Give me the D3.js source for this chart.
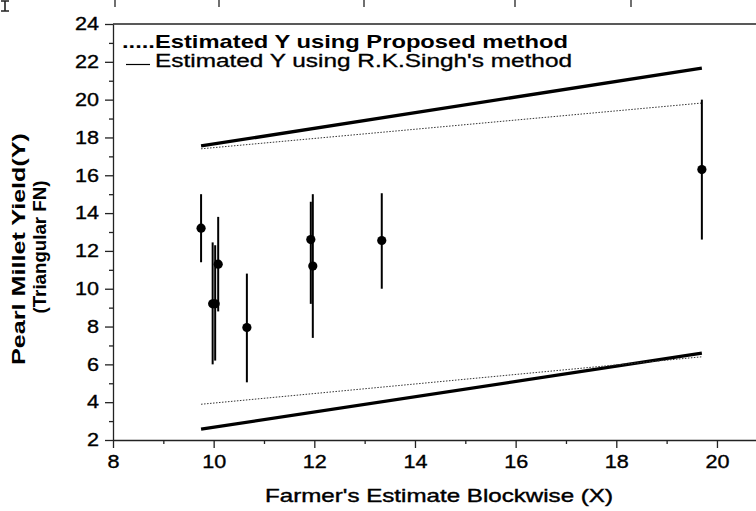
<!DOCTYPE html>
<html>
<head>
<meta charset="utf-8">
<script src="https://cdn.jsdelivr.net/npm/d3@7"></script>
<style>
  body { margin: 0; background: #fff; }
  svg { display: block; font-family: "Liberation Sans", Arial, sans-serif; }
</style>
</head>
<body>
<svg id="chart" width="756" height="511"></svg>
<script>
// --- Data ---
const blockX   = [9.75, 9.98, 10.03, 10.09, 10.66, 11.93, 11.97, 13.34, 19.70];
const yieldY   = [13.2, 9.2, 9.2, 11.3, 7.95, 12.6, 11.2, 12.55, 16.3];
const yieldLow = [11.4, 6.0, 6.2, 8.8, 5.05, 9.2, 7.4, 10.0, 12.6];
const yieldHigh= [15.0, 12.45, 12.3, 13.8, 10.8, 14.6, 15.0, 15.05, 20.0];

const lineX         = [9.75, 19.70];
const singhUpper    = [17.55, 21.67];
const singhLower    = [2.57, 6.59];
const proposedUpper = [17.4, 19.82];
const proposedLower = [3.89, 6.40];

const xMajor = [8, 10, 12, 14, 16, 18, 20];
const xMinor = [9, 11, 13, 15, 17, 19, 21];
const yMajor = [2, 4, 6, 8, 10, 12, 14, 16, 18, 20, 22, 24];
const yMinor = [3, 5, 7, 9, 11, 13, 15, 17, 19, 21, 23];

const legendProposed = ".....Estimated Y using Proposed method";
const legendSingh = "Estimated Y using R.K.Singh's method";
const xTitle = "Farmer's Estimate Blockwise (X)";
const yTitle1 = "Pearl Millet Yield(Y)";
const yTitle2 = "(Triangular FN)";

// --- Layout ---
const svg = d3.select("#chart");
const plotLeft = 113, plotTop = 24, plotBottom = 440, pxPerUnit = 50.33;

const x = d3.scaleLinear().domain([8, 21]).range([plotLeft, plotLeft + 13 * pxPerUnit]);
const y = d3.scaleLinear().domain([2, 24]).range([plotBottom, plotTop]);

svg.append("rect").attr("width", 756).attr("height", 511).attr("fill", "#fff");

// leftover marks of the figure above (cropped edge)
[115, 219, 364, 515, 631].forEach(px => {
    svg.append("line").attr("x1", px).attr("x2", px).attr("y1", 0).attr("y2", 7)
        .attr("stroke", "#222").attr("stroke-width", 1.3);
});
svg.append("path").attr("d", "M1,1H9M5,1V11M1,11H9")
    .attr("fill", "none").attr("stroke", "#222").attr("stroke-width", 1.6);

// --- Axes ---
const tickScale = "scale(1.2,1)";

const gx = svg.append("g").attr("transform", `translate(0,${plotBottom})`)
    .call(d3.axisBottom(x).tickValues(xMajor).tickSize(8).tickSizeOuter(0).tickPadding(7));
gx.append("g").call(d3.axisBottom(x).tickValues(xMinor).tickSize(4).tickFormat(""))
    .select(".domain").remove();

const gy = svg.append("g").attr("transform", `translate(${plotLeft},0)`)
    .call(d3.axisLeft(y).tickValues(yMajor).tickSize(8).tickSizeOuter(0).tickPadding(6));
gy.append("g").call(d3.axisLeft(y).tickValues(yMinor).tickSize(4).tickFormat(""))
    .select(".domain").remove();

[gx, gy].forEach(g => {
    g.selectAll(".domain, line").attr("stroke", "#222").attr("stroke-width", 1.3);
    g.selectAll("text").style("font-size", "18px").style("font-family", "Liberation Sans, Arial")
        .attr("fill", "#000").attr("stroke", "#000").attr("stroke-width", 0.35)
        .attr("transform", tickScale);
});
gy.selectAll(".tick text").attr("x", -14 / 1.2);

// top frame line
svg.append("line")
    .attr("x1", x(8)).attr("x2", 756).attr("y1", y(24)).attr("y2", y(24))
    .attr("stroke", "#222").attr("stroke-width", 1.3);

// --- Fitted lines ---
const lineGen = d3.line().x(d => x(d[0])).y(d => y(d[1]));
const pairs = vals => lineX.map((v, i) => [v, vals[i]]);

[singhUpper, singhLower].forEach(vals => {
    svg.append("path").attr("d", lineGen(pairs(vals)))
        .attr("fill", "none").attr("stroke", "#000").attr("stroke-width", 3.3);
});
[proposedUpper, proposedLower].forEach(vals => {
    svg.append("path").attr("d", lineGen(pairs(vals)))
        .attr("fill", "none").attr("stroke", "#333").attr("stroke-width", 1)
        .attr("stroke-dasharray", "1.5,1.5");
});

// --- Points with error bars ---
const pts = blockX.map((v, i) => ({ x: v, y: yieldY[i], lo: yieldLow[i], hi: yieldHigh[i] }));

svg.selectAll(".err").data(pts).enter().append("line")
    .attr("class", "err")
    .attr("x1", d => x(d.x)).attr("x2", d => x(d.x))
    .attr("y1", d => y(d.hi)).attr("y2", d => y(d.lo))
    .attr("stroke", "#000").attr("stroke-width", 2);

svg.selectAll(".dot").data(pts).enter().append("circle")
    .attr("class", "dot")
    .attr("cx", d => x(d.x)).attr("cy", d => y(d.y)).attr("r", 4.6)
    .attr("fill", "#000");

// --- Legend ---
svg.append("text")
    .attr("x", 122).attr("y", 48)
    .attr("textLength", 446).attr("lengthAdjust", "spacingAndGlyphs")
    .style("font-size", "19px").style("font-weight", "bold")
    .attr("fill", "#000")
    .text(legendProposed);

svg.append("line").attr("x1", 126).attr("x2", 150).attr("y1", 64.5).attr("y2", 64.5)
    .attr("stroke", "#000").attr("stroke-width", 1.2);
svg.append("text")
    .attr("x", 155).attr("y", 66.5)
    .attr("textLength", 417).attr("lengthAdjust", "spacingAndGlyphs")
    .style("font-size", "17.5px")
    .attr("fill", "#000").attr("stroke", "#000").attr("stroke-width", 0.3)
    .text(legendSingh);

// --- Axis titles ---
svg.append("text")
    .attr("x", 439).attr("y", 502)
    .attr("text-anchor", "middle")
    .attr("textLength", 348).attr("lengthAdjust", "spacingAndGlyphs")
    .style("font-size", "18.5px")
    .attr("fill", "#000").attr("stroke", "#000").attr("stroke-width", 0.4)
    .text(xTitle);

svg.append("text")
    .attr("transform", "translate(25,249) rotate(-90)")
    .attr("text-anchor", "middle")
    .attr("textLength", 232).attr("lengthAdjust", "spacingAndGlyphs")
    .style("font-size", "18px").style("font-weight", "bold")
    .attr("fill", "#000")
    .text(yTitle1);

svg.append("text")
    .attr("transform", "translate(46,247) rotate(-90)")
    .attr("text-anchor", "middle")
    .attr("textLength", 133).attr("lengthAdjust", "spacingAndGlyphs")
    .style("font-size", "18px").style("font-weight", "bold")
    .attr("fill", "#000")
    .text(yTitle2);
</script>
</body>
</html>
